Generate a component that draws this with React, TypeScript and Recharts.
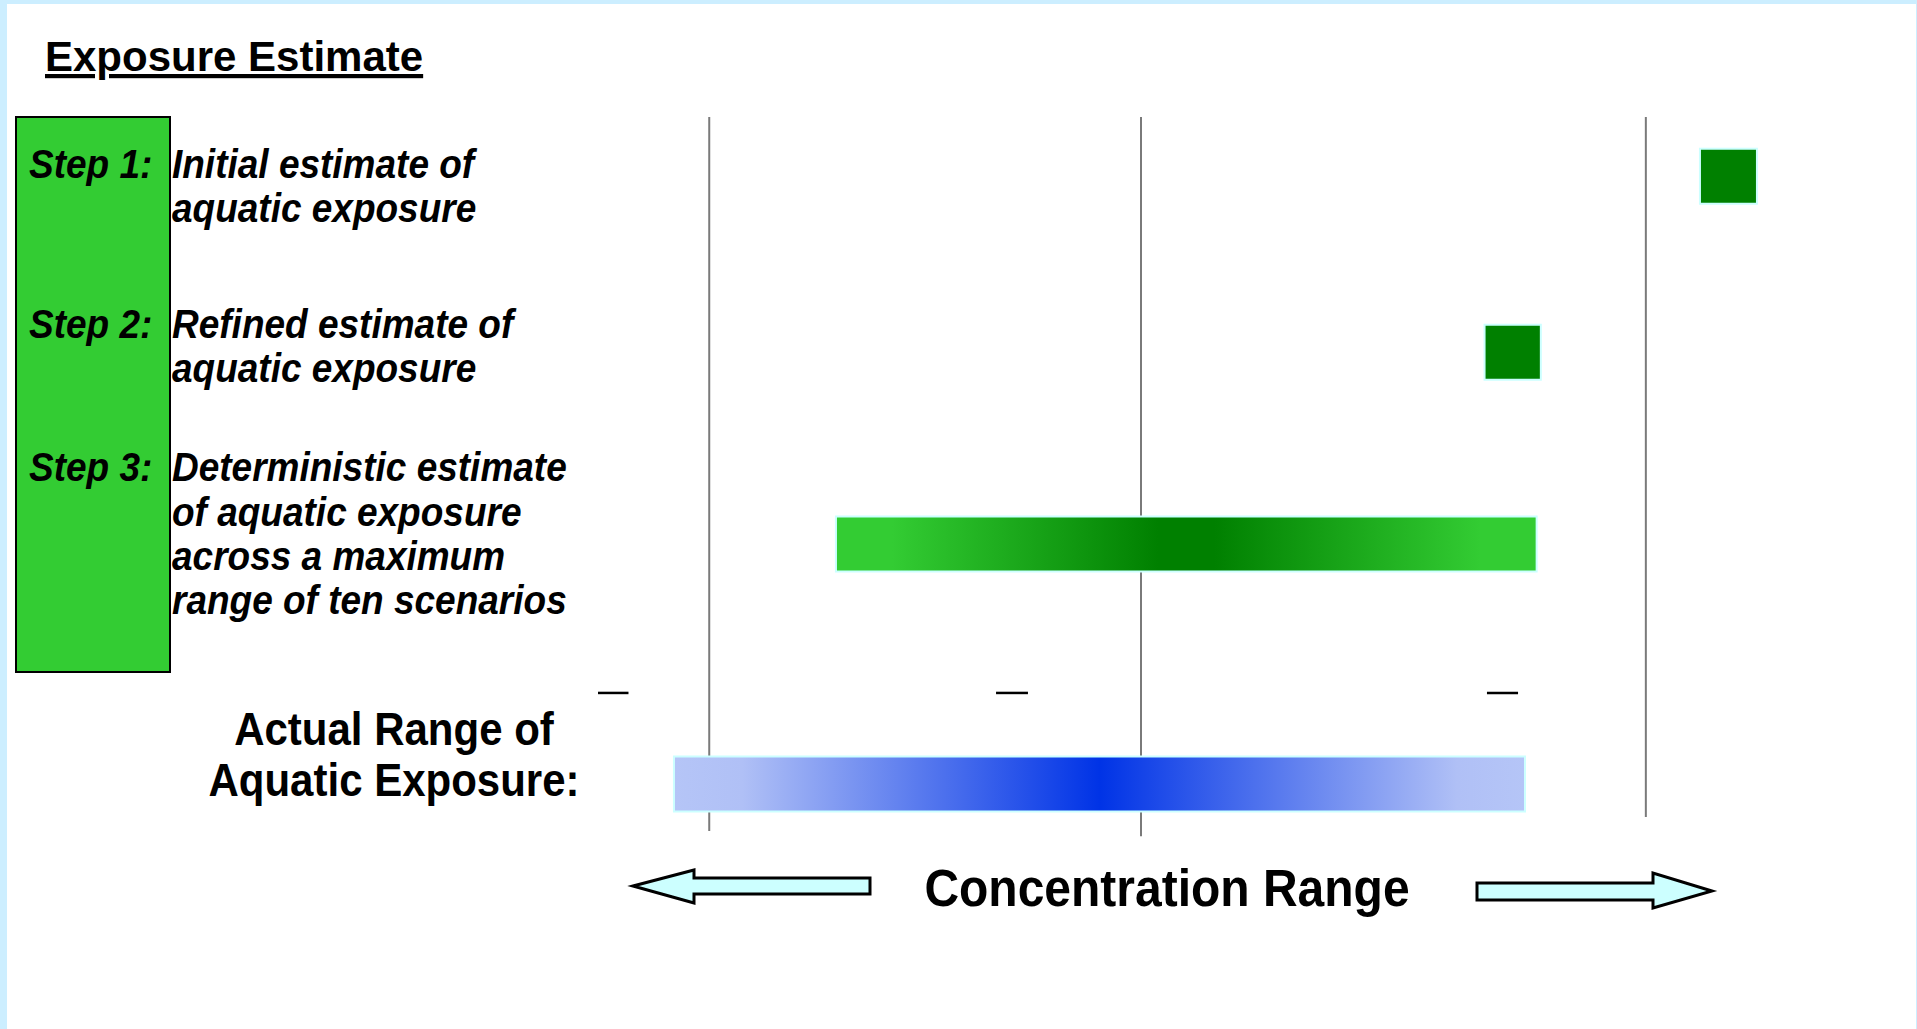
import React from 'react';
import { ComposedChart, Bar, Cell, XAxis, YAxis, ReferenceLine } from 'recharts';

const W = 1917;
const H = 1029;
const FONT = '"Liberation Sans", Arial, Helvetica, sans-serif';

// concentration axis, arbitrary units (0–100)
const gridLines = [10.77, 46.75, 88.82];
const gridBottoms = [4.72, 4.75, 4.64];

// one row per estimate, placed on a vertical "tier" axis
const rowNames = ['Step 1', 'Step 2', 'Step 3', 'Actual range'];
const rowTier = [1, 2, 3.09, 4.455];
const rangeLow = [93.33, 75.38, 21.33, 7.83];
const rangeHigh = [98.08, 80.07, 79.72, 78.75];

// the three little dashes above the actual range
const dashLow = [1.5, 34.67, 75.58];
const dashHigh = [4.04, 37.33, 78.17];
const dashTier = 3.935;

const stepLabels = ['Step 1:', 'Step 2:', 'Step 3:'];
const stepText = [
  ['Initial estimate of', 'aquatic exposure'],
  ['Refined estimate of', 'aquatic exposure'],
  ['Deterministic estimate', 'of aquatic exposure', 'across a maximum', 'range of ten scenarios'],
];
const stepBaselines = [[178, 222], [337.5, 382], [481, 526, 570, 614]];

const rows = rowNames.map((name, i) => ({
  name,
  tier: rowTier[i],
  lo: rangeLow[i],
  hi: rangeHigh[i],
}));

const fills = ['#008000', '#008000', 'url(#gradStep3)', 'url(#gradActual)'];

// text a little taller than the font draws it, like the slide
function Tall({ x, y, children, ...rest }: any) {
  return (
    <text transform={`translate(${x},${y}) scale(1,1.08)`} {...rest}>
      {children}
    </text>
  );
}

export default function App() {
  return (
    <div style={{ position: 'absolute', left: 0, top: 0, width: W, height: H, background: '#cceeff', overflow: 'hidden' }}>
      <div style={{ position: 'absolute', left: 7, top: 4, width: 1909, height: H - 4, background: '#ffffff' }} />

      <div style={{ position: 'absolute', left: 0, top: 0 }}>
        <ComposedChart
          width={W}
          height={H}
          layout="vertical"
          data={rows}
          margin={{ top: 117, right: 137, bottom: 198, left: 580 }}
        >
          <defs>
            <linearGradient id="gradStep3" x1="0" y1="0" x2="1" y2="0">
              <stop offset="0%" stopColor="#33cc33" />
              <stop offset="8%" stopColor="#33cc33" />
              <stop offset="46%" stopColor="#008000" />
              <stop offset="54%" stopColor="#008000" />
              <stop offset="92%" stopColor="#33cc33" />
              <stop offset="100%" stopColor="#33cc33" />
            </linearGradient>
            <linearGradient id="gradActual" x1="0" y1="0" x2="1" y2="0">
              <stop offset="0%" stopColor="#b5c5f7" />
              <stop offset="8%" stopColor="#b0c0f6" />
              <stop offset="50%" stopColor="#0033e6" />
              <stop offset="92%" stopColor="#b0c0f6" />
              <stop offset="100%" stopColor="#b5c5f7" />
            </linearGradient>
          </defs>
          <XAxis type="number" domain={[0, 100]} hide />
          <YAxis type="number" dataKey="tier" domain={[0.66, 4.72]} ticks={rowTier} allowDataOverflow hide />

          {gridLines.map((x, i) => (
            <ReferenceLine
              key={`g${i}`}
              segment={[{ x, y: 0.66 }, { x, y: gridBottoms[i] }]}
              stroke="#7a7a7a"
              strokeWidth={2}
              ifOverflow="visible"
              zIndex={-50}
            />
          ))}
          {dashLow.map((x, i) => (
            <ReferenceLine
              key={`d${i}`}
              segment={[{ x, y: dashTier }, { x: dashHigh[i], y: dashTier }]}
              stroke="#000000"
              strokeWidth={2.5}
              ifOverflow="visible"
            />
          ))}

          <Bar dataKey={(d) => [d.lo, d.hi]} barSize={55} isAnimationActive={false}>
            {rows.map((r, i) => (
              <Cell key={r.name} fill={fills[i]} stroke="#ccffff" strokeWidth={2} />
            ))}
          </Bar>
        </ComposedChart>
      </div>

      <svg width={W} height={H} style={{ position: 'absolute', left: 0, top: 0, pointerEvents: 'none' }} fontFamily={FONT}>
        <text x={45} y={71} fontSize={42} fontWeight="bold" fill="#000" textDecoration="underline">
          Exposure Estimate
        </text>

        <rect x={16} y={117} width={154} height={555} fill="#33cc33" stroke="#000" strokeWidth={2} />

        {stepLabels.map((lab, i) => (
          <g key={lab} fontSize={37} fontWeight="bold" fontStyle="italic" fill="#000">
            <Tall x={29} y={stepBaselines[i][0]}>{lab}</Tall>
            {stepText[i].map((line, j) => (
              <Tall key={j} x={172} y={stepBaselines[i][j]}>{line}</Tall>
            ))}
          </g>
        ))}

        <g fontSize={42} fontWeight="bold" fill="#000" textAnchor="middle">
          <Tall x={394} y={745}>Actual Range of</Tall>
          <Tall x={394} y={796}>Aquatic Exposure:</Tall>
        </g>

        <polygon
          points="633,886 694,870 694,878 870,878 870,894 694,894 694,903"
          fill="#ccffff"
          stroke="#000"
          strokeWidth={3}
          strokeLinejoin="miter"
        />
        <polygon
          points="1477,883 1653,883 1653,873 1712,891 1653,908 1653,900 1477,900"
          fill="#ccffff"
          stroke="#000"
          strokeWidth={3}
          strokeLinejoin="miter"
        />
        <Tall x={1167} y={906} fontSize={48} fontWeight="bold" fill="#000" textAnchor="middle">
          Concentration Range
        </Tall>
      </svg>
    </div>
  );
}
